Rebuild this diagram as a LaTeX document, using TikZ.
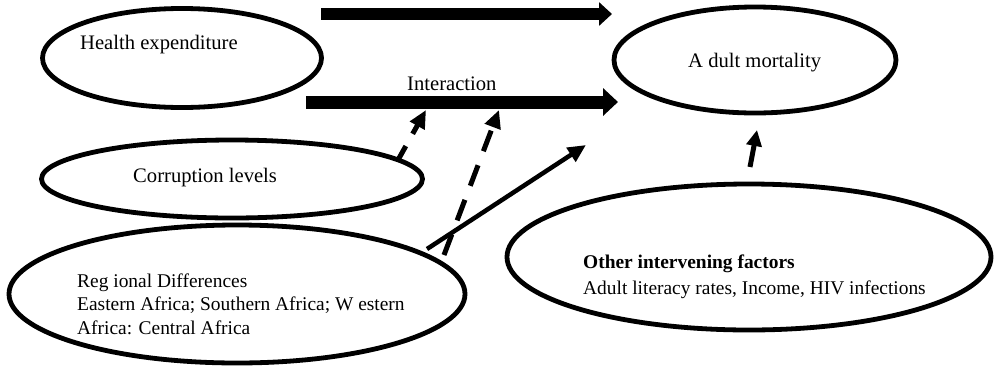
\documentclass[tikz,border=0pt]{standalone}
\usepackage{fontspec}
\setmainfont{Liberation Serif}
\usetikzlibrary{shapes.geometric,arrows.meta}
\begin{document}
\begin{tikzpicture}[x=1bp,y=-1bp,
  oval/.style={draw=black,line width=4.8bp,ellipse,inner sep=0pt,outer sep=0pt},
  lbl/.style={font=\fontsize{19.5}{23.5}\selectfont,inner sep=0pt,anchor=west,align=left},
  biglbl/.style={lbl,font=\fontsize{20.7}{24}\selectfont},
  bigarrow/.style={line width=12bp,-{Triangle[length=13bp,width=23bp]}},
  dasharrow/.style={line width=5bp,dash pattern=on 22bp off 15bp,-{Triangle[length=18bp,width=16bp]}},
  thinarrow/.style={line width=4.5bp,-{Triangle[length=18bp,width=16bp]}}]
\useasboundingbox (0,0) rectangle (996,368);
% ellipses
\node[oval,minimum width=279bp,minimum height=99bp] (health) at (182,58) {};
\node[oval,minimum width=282bp,minimum height=106bp] (mort) at (755,60) {};
\node[oval,minimum width=381bp,minimum height=78bp] (corr) at (232,179) {};
\node[oval,minimum width=456bp,minimum height=138bp] (reg) at (237,294) {};
\node[oval,minimum width=484bp,minimum height=146bp] (other) at (749,257) {};
% texts
\node[biglbl] (thealth) at (80,45) {Health expenditure};
\node[biglbl] (tmort) at (688,63) {A dult mortality};
\node[biglbl] (tcorr) at (133,178) {Corruption levels};
\node[lbl] (treg) at (77,304) {Reg ional Differences\\Eastern Africa; Southern Africa; W estern\\Africa: Central Africa};
\node[lbl,font=\fontsize{19.5}{26}\selectfont] (tother) at (583,277) {\textbf{Other intervening factors}\\Adult literacy rates, Income, HIV infections};
\node[biglbl] (tint) at (407,84) {Interaction};
% arrow end points
\coordinate (a1s) at (321,14);  \coordinate (a1e) at (612,14);
\coordinate (a2s) at (306,102); \coordinate (a2e) at (618,102);
\coordinate (d1s) at (398,160); \coordinate (d1e) at (426,110);
\coordinate (d2s) at (444,255); \coordinate (d2e) at (499,110);
\coordinate (s1s) at (427,249); \coordinate (s1e) at (586,145);
\coordinate (u1s) at (750,167); \coordinate (u1e) at (757,130);
% connectors
\draw[bigarrow] (a1s) -- (a1e);
\draw[line width=13bp,-{Triangle[length=15bp,width=27bp]}] (a2s) -- (a2e);
\draw[dasharrow,dash pattern=on 16bp off 14bp] (d1s) -- (d1e);
\draw[dasharrow] (d2s) -- (d2e);
\draw[thinarrow] (s1s) -- (s1e);
\draw[line width=5bp,-{Triangle[length=16bp,width=15bp]}] (u1s) -- (u1e);
\end{tikzpicture}
\end{document}
